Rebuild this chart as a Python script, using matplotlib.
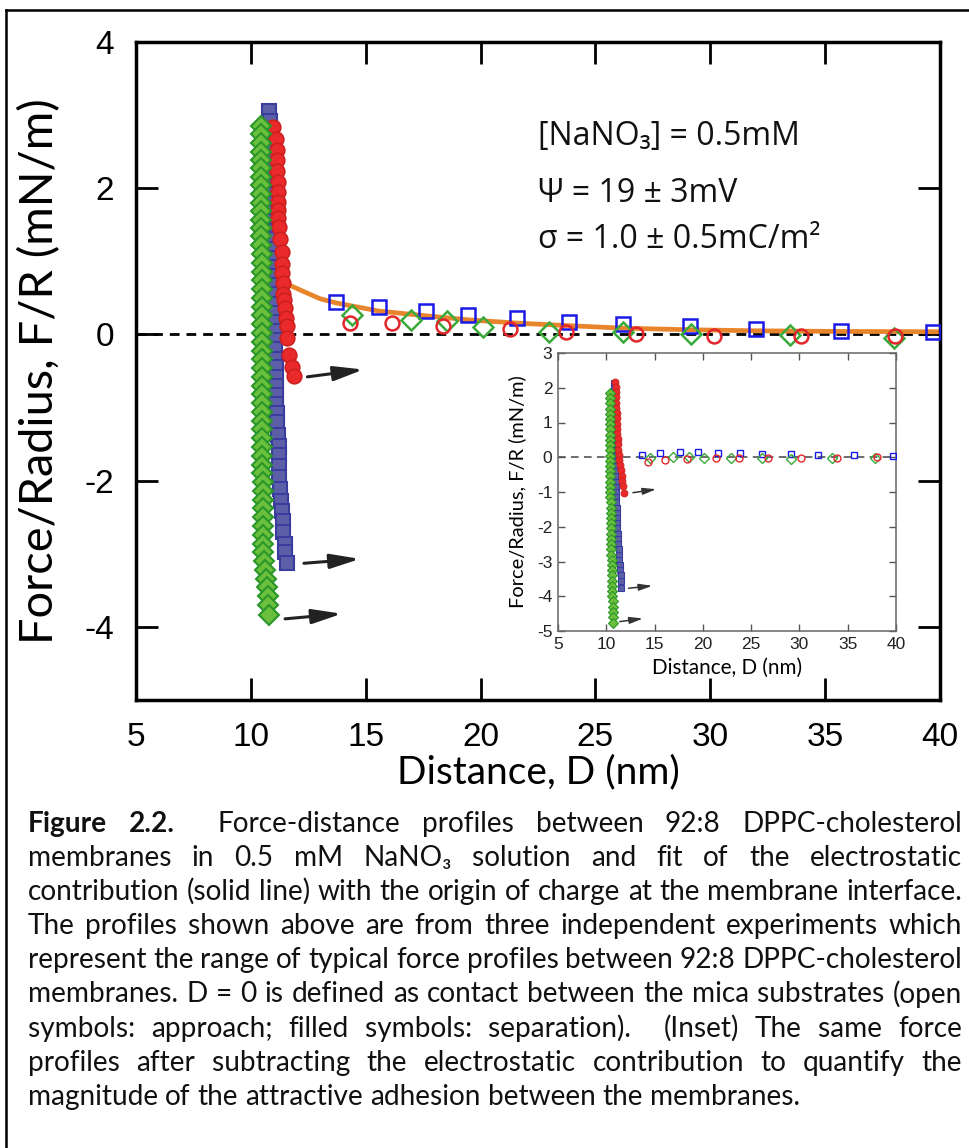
import numpy as np
import matplotlib
matplotlib.use("Agg")
import matplotlib.pyplot as plt
from matplotlib.lines import Line2D

# ---- main panel: approach (open symbols) ----
blue_open_x = [13.72, 15.57, 17.63, 19.45, 21.60, 23.84, 26.19, 29.10, 31.99, 35.70, 39.70]
blue_open_y = [0.44, 0.38, 0.32, 0.26, 0.23, 0.17, 0.14, 0.11, 0.08, 0.05, 0.04]
green_open_x = [14.40, 16.95, 18.56, 20.11, 22.96, 26.19, 29.16, 33.45, 38.00]
green_open_y = [0.27, 0.20, 0.18, 0.10, 0.04, 0.04, 0.01, -0.01, -0.05]
red_open_x = [14.31, 16.16, 18.37, 21.30, 23.74, 26.77, 30.17, 33.94, 38.04]
red_open_y = [0.15, 0.15, 0.11, 0.07, 0.04, 0.01, -0.02, -0.02, -0.02]

# ---- main panel: separation (filled symbols) ----
green_fill_y = [2.85, 2.74, 2.62, 2.50, 2.39, 2.27, 2.15, 2.04, 1.92, 1.80, 1.69, 1.57,
                1.46, 1.34, 1.22, 1.10, 0.98, 0.86, 0.74, 0.62, 0.50, 0.38, 0.26, 0.14,
                0.02, -0.10, -0.22, -0.34, -0.46, -0.58, -0.70, -0.82, -0.94, -1.06, -1.18,
                -1.30, -1.42, -1.54, -1.66, -1.78, -1.90, -2.02, -2.14, -2.26, -2.38, -2.50,
                -2.62, -2.74, -2.86, -2.98, -3.10, -3.22, -3.34, -3.46, -3.58, -3.70, -3.84]
green_fill_x = [10.42, 10.43, 10.43, 10.44, 10.44, 10.44, 10.45, 10.45, 10.45, 10.45, 10.45, 10.46,
                10.46, 10.46, 10.46, 10.47, 10.47, 10.47, 10.47, 10.47, 10.48, 10.48, 10.48, 10.48,
                10.48, 10.48, 10.48, 10.49, 10.49, 10.49, 10.49, 10.49, 10.49, 10.49, 10.50,
                10.50, 10.50, 10.50, 10.50, 10.50, 10.50, 10.51, 10.51, 10.51, 10.51, 10.52,
                10.52, 10.53, 10.54, 10.55, 10.58, 10.62, 10.66, 10.70, 10.73, 10.76, 10.80]

blue_fill_y = [3.05, 2.92, 2.80, 2.67, 2.55, 2.42, 2.30, 2.17, 2.05, 1.92, 1.80, 1.67,
               1.55, 1.42, 1.30, 1.17, 1.05, 0.92, 0.80, 0.67, 0.55, 0.42, 0.30, 0.17,
               0.05, -0.08, -0.20, -0.33, -0.45, -0.58, -0.70, -0.83, -0.95, -1.08, -1.20,
               -1.38, -1.52, -1.65, -1.80, -1.95, -2.12, -2.28, -2.42, -2.55, -2.70, -2.86,
               -2.98, -3.12]
blue_fill_x = [10.80, 10.82, 10.84, 10.85, 10.86, 10.87, 10.88, 10.88, 10.89, 10.90, 10.90, 10.91,
               10.92, 10.92, 10.93, 10.94, 10.95, 10.96, 10.97, 10.98, 10.99, 11.00, 11.01, 11.02,
               11.03, 11.05, 11.06, 11.07, 11.08, 11.09, 11.10, 11.10, 11.11, 11.12, 11.12,
               11.20, 11.21, 11.22, 11.22, 11.23, 11.27, 11.30, 11.37, 11.38, 11.39, 11.48,
               11.50, 11.59]

red_fill_y = [2.84, 2.68, 2.52, 2.39, 2.23, 2.09, 1.95, 1.81, 1.70, 1.59, 1.47, 1.31, 1.13,
              0.97, 0.84, 0.70, 0.56, 0.47, 0.36, 0.22, 0.11, -0.05, -0.28, -0.44, -0.57]
red_fill_x = [10.98, 11.08, 11.12, 11.12, 11.12, 11.17, 11.20, 11.20, 11.20, 11.20, 11.24, 11.27, 11.34,
              11.37, 11.37, 11.41, 11.41, 11.46, 11.49, 11.53, 11.56, 11.59, 11.67, 11.78, 11.89]

# electrostatic fit (solid line)
fit_x = [11.30, 11.57, 12.35, 13.00, 13.72, 15.57, 17.63, 19.45, 21.60, 23.84, 26.19, 29.10,
         31.99, 35.70, 40.00]
fit_y = [0.80, 0.69, 0.58, 0.49, 0.43, 0.32, 0.255, 0.20, 0.155, 0.12, 0.086, 0.064,
         0.050, 0.041, 0.037]

# arrows marking the jump-out points: (tail_x, tail_y, head_x, head_y)
arrows_main = [(12.46, -0.58, 14.90, -0.48),
               (12.31, -3.13, 14.75, -3.07),
               (11.49, -3.89, 13.96, -3.82)]

# ---- inset: electrostatic contribution subtracted ----
in_blue_open_x = [13.73, 15.57, 17.63, 19.50, 21.60, 23.84, 26.15, 29.10, 31.96, 35.66, 39.66]
in_blue_open_y = [0.065, 0.11, 0.14, 0.14, 0.11, 0.11, 0.08, 0.08, 0.06, 0.06, 0.04]
in_green_open_x = [14.57, 16.87, 18.52, 20.14, 22.94, 26.15, 29.10, 33.34, 37.83]
in_green_open_y = [-0.02, 0.01, 0.01, -0.02, -0.02, -0.02, -0.05, -0.02, -0.02]
in_red_open_x = [14.27, 16.13, 18.38, 21.32, 23.70, 26.70, 30.12, 33.88, 38.02]
in_red_open_y = [-0.13, -0.08, -0.05, -0.03, -0.02, -0.02, -0.02, -0.02, 0.00]

in_green_fill_y = [1.84, 1.70, 1.55, 1.40, 1.25, 1.10, 0.95, 0.80, 0.65, 0.50, 0.35, 0.20,
                   0.05, -0.10, -0.25, -0.40, -0.55, -0.70, -0.85, -1.00, -1.15, -1.30, -1.45,
                   -1.60, -1.75, -1.90, -2.05, -2.20, -2.35, -2.50, -2.65, -2.80, -2.95, -3.10,
                   -3.25, -3.40, -3.55, -3.70, -3.85, -4.00, -4.15, -4.30, -4.45, -4.60, -4.76]
in_green_fill_x = [10.38, 10.36, 10.35, 10.35, 10.34, 10.34, 10.34, 10.35, 10.35, 10.35, 10.36, 10.36,
                   10.37, 10.38, 10.39, 10.40, 10.40, 10.41, 10.42, 10.43, 10.43, 10.44, 10.45,
                   10.46, 10.47, 10.48, 10.49, 10.50, 10.50, 10.51, 10.52, 10.53, 10.54, 10.55,
                   10.56, 10.57, 10.58, 10.60, 10.62, 10.64, 10.66, 10.68, 10.70, 10.72, 10.73]

in_blue_fill_y = [2.15, 2.00, 1.85, 1.70, 1.55, 1.40, 1.25, 1.10, 0.95, 0.80, 0.65, 0.50,
                  0.35, 0.20, 0.05, -0.10, -0.25, -0.40, -0.55, -0.70, -0.85, -1.00, -1.15,
                  -1.30, -1.45, -1.60, -1.75, -1.90, -2.05, -2.20, -2.35, -2.50, -2.65, -2.80,
                  -2.95, -3.10, -3.25, -3.40, -3.55, -3.77]
in_blue_fill_x = [10.77, 10.78, 10.79, 10.80, 10.81, 10.82, 10.83, 10.84, 10.85, 10.86, 10.87, 10.88,
                  10.89, 10.90, 10.91, 10.92, 10.93, 10.94, 10.95, 10.96, 10.98, 11.00, 11.02,
                  11.04, 11.06, 11.08, 11.10, 11.12, 11.14, 11.17, 11.20, 11.23, 11.28, 11.31,
                  11.35, 11.40, 11.44, 11.48, 11.52, 11.56]

in_red_fill_y = [2.17, 2.02, 1.87, 1.72, 1.57, 1.42, 1.27, 1.12, 0.97, 0.82, 0.67, 0.52,
                 0.37, 0.22, 0.07, -0.08, -0.23, -0.38, -0.53, -0.68, -0.83, -1.04]
in_red_fill_x = [10.94, 10.96, 10.98, 11.00, 11.02, 11.04, 11.06, 11.08, 11.10, 11.13, 11.16, 11.19,
                 11.22, 11.26, 11.30, 11.36, 11.42, 11.50, 11.58, 11.65, 11.72, 11.80]

arrows_inset = [(12.76, -1.02, 15.18, -0.92),
                (12.30, -3.77, 14.78, -3.70),
                (11.40, -4.73, 13.81, -4.64)]

x_ticks = [5, 10, 15, 20, 25, 30, 35, 40]
y_ticks_main = [-4, -2, 0, 2, 4]
y_ticks_inset = [-5, -4, -3, -2, -1, 0, 1, 2, 3]

conditions = ["[NaNO\u2083] = 0.5mM", "\u03a8 = 19 \u00b1 3mV", "\u03c3 = 1.0 \u00b1 0.5mC/m\u00b2"]

caption_lines = [
    "Figure 2.2.  Force-distance profiles between 92:8 DPPC-cholesterol",
    "membranes in 0.5 mM NaNO\u2083 solution and fit of the electrostatic",
    "contribution (solid line) with the origin of charge at the membrane interface.",
    "The profiles shown above are from three independent experiments which",
    "represent the range of typical force profiles between 92:8 DPPC-cholesterol",
    "membranes. D = 0 is defined as contact between the mica substrates (open",
    "symbols: approach; filled symbols: separation).  (Inset) The same force",
    "profiles after subtracting the electrostatic contribution to quantify the",
    "magnitude of the attractive adhesion between the membranes.",
]

BLUE_EDGE = "#1a1ae6"
GREEN_EDGE = "#3aaa3a"
RED_EDGE = "#e3262b"
BLUE_FILL, BLUE_FILL_EDGE = "#5c5fa8", "#3a3d9e"
GREEN_FILL, GREEN_FILL_EDGE = "#6abf3c", "#2a962a"
RED_FILL, RED_FILL_EDGE = "#ea2a2a", "#cc1f1f"

LABEL_FONT = ["Lato", "DejaVu Sans"]
CAP_FONT = ["Lato", "DejaVu Sans"]

W, H = 970, 1148
plt.rcParams["font.family"] = ["Liberation Sans", "DejaVu Sans"]
plt.rcParams["axes.unicode_minus"] = False
fig = plt.figure(figsize=(W / 100, H / 100), dpi=100)
renderer = fig.canvas.get_renderer()


def px_rect(left, top, right, bottom):
    return [left / W, 1 - bottom / H, (right - left) / W, (bottom - top) / H]


def text_width(s, size, family, weight="normal"):
    t = fig.text(0, 0, s, fontsize=size, family=family, weight=weight)
    w = t.get_window_extent(renderer).width
    t.remove()
    return w


def fit_size(s, family, target_px):
    return 10 * target_px / text_width(s, 10, family)


# ---------------- main axes ----------------
ax = fig.add_axes(px_rect(136, 42, 940, 700))
ax.axhline(0, color="k", lw=2, ls=(0, (3.5, 2.5)), zorder=1)
ax.plot(fit_x, fit_y, color="#e8842c", lw=3.4, zorder=2, solid_capstyle="round")

ax.plot(blue_open_x, blue_open_y, "s", ms=10, mfc="none", mec=BLUE_EDGE, mew=1.8, zorder=3)
ax.plot(green_open_x, green_open_y, "D", ms=10, mfc="none", mec=GREEN_EDGE, mew=1.8, zorder=3)
ax.plot(red_open_x, red_open_y, "o", ms=10, mfc="none", mec=RED_EDGE, mew=1.8, zorder=3)

ax.plot(blue_fill_x, blue_fill_y, "s", ms=10, mfc=BLUE_FILL, mec=BLUE_FILL_EDGE, mew=1.5, zorder=4)
ax.plot(green_fill_x, green_fill_y, "D", ms=10.5, mfc=GREEN_FILL, mec=GREEN_FILL_EDGE, mew=1.5, zorder=5)
ax.plot(red_fill_x, red_fill_y, "o", ms=10.5, mfc=RED_FILL, mec=RED_FILL_EDGE, mew=1.2, zorder=4)

for tx, ty, hx, hy in arrows_main:
    ax.annotate("", xy=(hx, hy), xytext=(tx, ty),
                arrowprops=dict(arrowstyle="-|>,head_length=0.9,head_width=0.22",
                                lw=2.2, color="#222222", shrinkA=0, shrinkB=0,
                                mutation_scale=20))

ax.set_xlim(5, 40)
ax.set_ylim(-5, 4)
ax.set_xticks(x_ticks)
ax.set_yticks(y_ticks_main)
ax.tick_params(direction="in", length=16, width=2, top=True, right=True,
               labelsize=24, pad=16)
for s in ax.spines.values():
    s.set_linewidth(2.5)

xl = "Distance, D (nm)"
yl = "Force/Radius, F/R (mN/m)"
ax.set_xlabel(xl, fontsize=fit_size(xl, LABEL_FONT, 282), family=LABEL_FONT)
ax.set_ylabel(yl, fontsize=fit_size(yl, LABEL_FONT, 545), family=LABEL_FONT)
ax.xaxis.set_label_coords(0.5, -(772 - 700) / 658)
ax.xaxis.label.set_va("center")
ax.yaxis.set_label_coords(-(136 - 40) / 804, 0.5)
ax.yaxis.label.set_va("center")

for i, line in enumerate(conditions):
    fig.text(538 / W, 1 - [145, 202, 248][i] / H, line, fontsize=23,
             family=["Open Sans", "DejaVu Sans"], va="baseline", ha="left", color="#111111")

# ---------------- inset ----------------
axi = fig.add_axes(px_rect(558, 353, 896, 631))
axi.axhline(0, color="#444444", lw=1.1, ls=(0, (5, 3.5)), zorder=1)
axi.plot(in_blue_open_x, in_blue_open_y, "s", ms=5, mfc="none", mec=BLUE_EDGE, mew=1.0, zorder=3)
axi.plot(in_green_open_x, in_green_open_y, "D", ms=5, mfc="none", mec=GREEN_EDGE, mew=1.0, zorder=3)
axi.plot(in_red_open_x, in_red_open_y, "o", ms=5, mfc="none", mec=RED_EDGE, mew=1.0, zorder=3)
axi.plot(in_blue_fill_x, in_blue_fill_y, "s", ms=5, mfc=BLUE_FILL, mec=BLUE_FILL_EDGE, mew=0.8, zorder=4)
axi.plot(in_green_fill_x, in_green_fill_y, "D", ms=5, mfc=GREEN_FILL, mec=GREEN_FILL_EDGE, mew=0.8, zorder=5)
axi.plot(in_red_fill_x, in_red_fill_y, "o", ms=5, mfc=RED_FILL, mec=RED_FILL_EDGE, mew=0.6, zorder=4)
for tx, ty, hx, hy in arrows_inset:
    axi.annotate("", xy=(hx, hy), xytext=(tx, ty),
                 arrowprops=dict(arrowstyle="-|>,head_length=0.8,head_width=0.2",
                                 lw=1.1, color="#333333", shrinkA=0, shrinkB=0,
                                 mutation_scale=10))
axi.set_xlim(5, 40)
axi.set_ylim(-5, 3)
axi.set_xticks(x_ticks)
axi.set_yticks(y_ticks_inset)
axi.tick_params(direction="in", length=5, width=1, colors="#555555", labelcolor="#222222",
                top=True, right=True, labelsize=12.5, pad=4)
for s in axi.spines.values():
    s.set_linewidth(1.1)
    s.set_color("#666666")
axi.set_xlabel(xl, fontsize=fit_size(xl, LABEL_FONT, 150), family=LABEL_FONT)
axi.set_ylabel(yl, fontsize=fit_size(yl, LABEL_FONT, 232), family=LABEL_FONT)
axi.xaxis.set_label_coords(0.5, -(668 - 631) / 278)
axi.xaxis.label.set_va("center")
axi.yaxis.set_label_coords(-(558 - 517) / 338, 0.5)
axi.yaxis.label.set_va("center")

# ---------------- page frame ----------------
fig.add_artist(Line2D([6 / W, 1.0], [1 - 10 / H, 1 - 10 / H], transform=fig.transFigure,
                      color="k", lw=1.8))
fig.add_artist(Line2D([6 / W, 6 / W], [1 - 10 / H, 0.0], transform=fig.transFigure,
                      color="k", lw=1.8))

# ---------------- justified caption ----------------
cap_left, cap_right = 28, 962
cap_size = fit_size(caption_lines[2], CAP_FONT, cap_right - cap_left)
space_w = text_width("x x", cap_size, CAP_FONT) - text_width("xx", cap_size, CAP_FONT)

for i, line in enumerate(caption_lines):
    y = 1 - (832 + 34.1 * i) / H
    words, gaps = [], []
    pending = 0
    for tok in line.split(" "):
        if tok == "":
            pending += 1
            continue
        if words:
            gaps.append(1 + pending)
        pending = 0
        words.append(tok)
    weights = ["bold" if (i == 0 and k < 2) else "normal" for k in range(len(words))]
    widths = [text_width(w_, cap_size, CAP_FONT, wt) for w_, wt in zip(words, weights)]
    if i < len(caption_lines) - 1:
        unit = (cap_right - cap_left - sum(widths)) / sum(gaps)
    else:
        unit = space_w
    x = cap_left
    for k, (w_, wt) in enumerate(zip(words, weights)):
        fig.text(x / W, y, w_, fontsize=cap_size, family=CAP_FONT, weight=wt,
                 va="baseline", ha="left", color="#111111")
        x += widths[k]
        if k < len(gaps):
            x += unit * gaps[k]

fig.savefig("out.png", dpi=100)
